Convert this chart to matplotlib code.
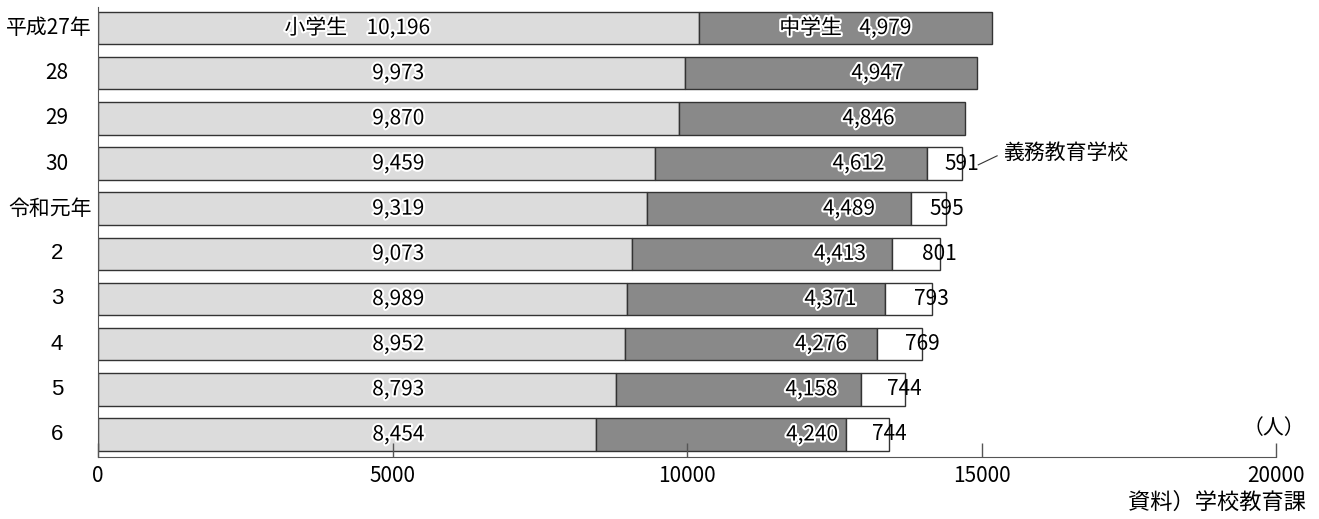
import matplotlib.pyplot as plt
import matplotlib.patheffects as pe
import numpy as np

plt.rcParams['font.family'] = ['Noto Sans CJK JP', 'DejaVu Sans']

# data
years = ['平成27年', '28', '29', '30', '令和元年', '2', '3', '4', '5', '6']
elementary = [10196, 9973, 9870, 9459, 9319, 9073, 8989, 8952, 8793, 8454]
junior = [4979, 4947, 4846, 4612, 4489, 4413, 4371, 4276, 4158, 4240]
compulsory = [0, 0, 0, 591, 595, 801, 793, 769, 744, 744]

# label x positions for the middle segment, as placed in the original
junior_label_x = [13370, 13234, 13081, 12912, 12750, 12598, 12436, 12275, 12114, 12122]

elementary = np.array(elementary)
junior = np.array(junior)
compulsory = np.array(compulsory)
y = np.arange(len(years))

fig = plt.figure(figsize=(13.19, 5.19), dpi=100)
ax = fig.add_axes([0.0743, 0.1195, 0.8931, 0.8670])

bar_h = 0.72
edge = '#333333'
ax.barh(y, elementary, height=bar_h, color='#dcdcdc', edgecolor=edge, linewidth=1)
ax.barh(y, junior, left=elementary, height=bar_h, color='#898989', edgecolor=edge, linewidth=1)
mask = compulsory > 0
ax.barh(y[mask], compulsory[mask], left=(elementary + junior)[mask], height=bar_h,
        color='white', edgecolor=edge, linewidth=1)

halo = [pe.withStroke(linewidth=3, foreground='white')]
fs = 15

for i in range(len(years)):
    ax.text(5100, y[i], f'{elementary[i]:,}', ha='center', va='center',
            fontsize=fs, path_effects=halo)
    ax.text(junior_label_x[i], y[i], f'{junior[i]:,}', ha='center', va='center',
            fontsize=fs, path_effects=halo)
    if compulsory[i] > 0:
        total = elementary[i] + junior[i] + compulsory[i]
        ax.text(total, y[i], f'{compulsory[i]:,}', ha='center', va='center',
                fontsize=fs)

ax.text(4230, y[0], '小学生', ha='right', va='center', fontsize=fs, path_effects=halo)
ax.text(12630, y[0], '中学生', ha='right', va='center', fontsize=fs, path_effects=halo)

# leader line for 義務教育学校
ax.plot([14945, 15265], [3.03, 2.83], color='#333333', lw=0.8, clip_on=False)
ax.text(15380, 2.77, '義務教育学校', ha='left', va='center', fontsize=fs)

ax.set_xlim(0, 20000)
ax.set_ylim(9.498, -0.465)
ax.set_xticks([0, 5000, 10000, 15000, 20000])
ax.set_xticklabels(['0', '5000', '10000', '15000', '20000'], fontsize=fs)
ax.tick_params(axis='x', direction='in', length=10, width=1, color='#555555', pad=6)

ax.set_yticks([])
for i, lab in enumerate(years):
    if lab.endswith('年'):
        ax.text(-0.005, y[i], lab, transform=ax.get_yaxis_transform(),
                ha='right', va='center', fontsize=fs)
    elif int(lab) < 10:
        ax.text(-0.0348, y[i], lab, transform=ax.get_yaxis_transform(),
                ha='center', va='center', fontsize=16, family='Liberation Sans')
    else:
        ax.text(-0.0348, y[i], lab, transform=ax.get_yaxis_transform(),
                ha='center', va='center', fontsize=fs)

for side in ['top', 'right']:
    ax.spines[side].set_visible(False)
ax.spines['left'].set_color('#555555')
ax.spines['bottom'].set_color('#555555')

ax.text(1.025, 0.065, '（人）', transform=ax.transAxes, ha='right', va='center', fontsize=fs)
fig.text(0.99, 0.032, '資料）学校教育課', ha='right', va='center', fontsize=16)

fig.savefig('out.png', dpi=100)
